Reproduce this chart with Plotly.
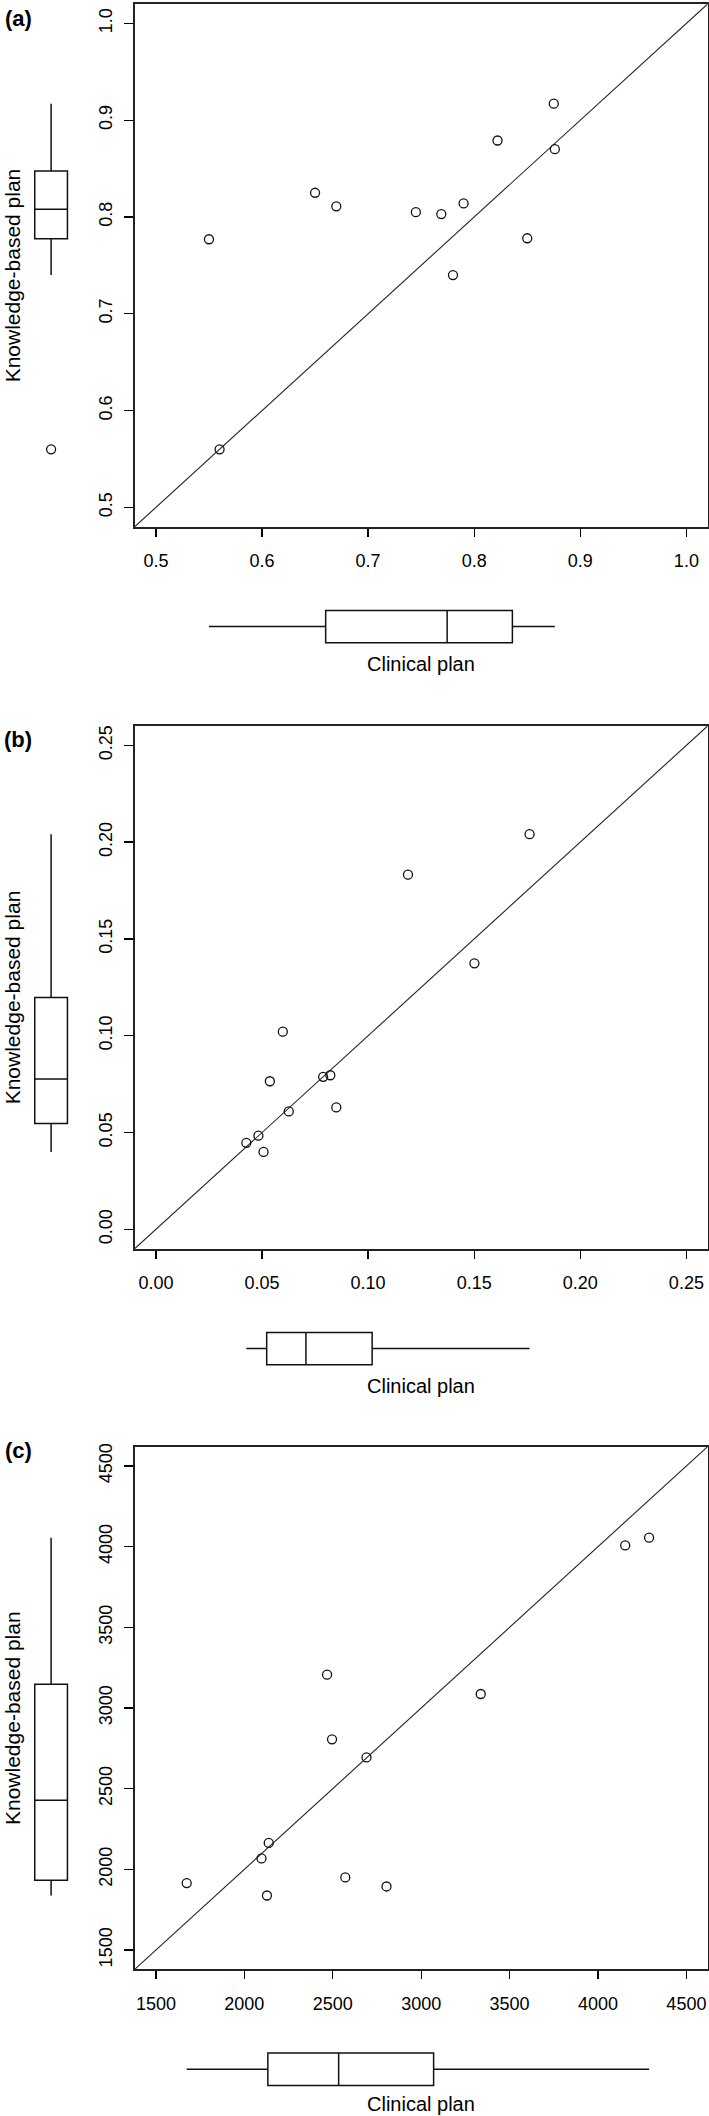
import plotly.graph_objects as go

W, H = 709, 2116

# ---------------- data ----------------
# Panel (a)
a_clinical = [0.550, 0.560, 0.650, 0.670, 0.745, 0.769, 0.790, 0.780, 0.822, 0.850, 0.875, 0.876]
a_kbp = [0.777, 0.560, 0.825, 0.811, 0.805, 0.803, 0.814, 0.740, 0.879, 0.778, 0.917, 0.870]
a_ticks = [0.5, 0.6, 0.7, 0.8, 0.9, 1.0]
a_ticklabels = ["0.5", "0.6", "0.7", "0.8", "0.9", "1.0"]

# Panel (b)
b_clinical = [0.1761, 0.1188, 0.1501, 0.0598, 0.0537, 0.0788, 0.0822, 0.0626, 0.0850, 0.0426, 0.0483, 0.0507]
b_kbp = [0.2041, 0.1832, 0.1374, 0.1021, 0.0765, 0.0788, 0.0796, 0.0609, 0.0630, 0.0447, 0.0484, 0.0400]
b_ticks = [0.00, 0.05, 0.10, 0.15, 0.20, 0.25]
b_ticklabels = ["0.00", "0.05", "0.10", "0.15", "0.20", "0.25"]

# Panel (c)
c_clinical = [4154, 4289, 3337, 2468, 2496, 2691, 2138, 2097, 1674, 2128, 2571, 2804]
c_kbp = [4008, 4056, 3087, 3207, 2806, 2694, 2164, 2068, 1915, 1838, 1950, 1894]
c_ticks = [1500, 2000, 2500, 3000, 3500, 4000, 4500]
c_ticklabels = ["1500", "2000", "2500", "3000", "3500", "4000", "4500"]

panel_letters = ["(a)", "(b)", "(c)"]
x_title = "Clinical plan"
y_title = "Knowledge-based plan"

# ---------------- layout geometry (pixels) ----------------
FRAME_L, FRAME_R = 134.7, 707.6
frame_tops = [1.0, 724.0, 1445.7]
FRAME_H = 523.5
letter_y = [16, 738, 1450]

FONT = "Liberation Sans, Arial, Helvetica, sans-serif"


def px_x(p):
    return p / W


def px_y(p):
    return 1 - p / H


panels = [
    (a_clinical, a_kbp, a_ticks, a_ticklabels),
    (b_clinical, b_kbp, b_ticks, b_ticklabels),
    (c_clinical, c_kbp, c_ticks, c_ticklabels),
]

fig = go.Figure()
layout = dict(
    width=W, height=H, autosize=False,
    margin=dict(l=0, r=0, t=0, b=0),
    paper_bgcolor="white", plot_bgcolor="white",
    showlegend=False,
    font=dict(family=FONT, color="black"),
)
annotations = []

for i, (cx, ky, ticks, ticklabels) in enumerate(panels):
    n_main = 2 * i + 1
    n_aux = 2 * i + 2
    xm = "x" if n_main == 1 else f"x{n_main}"
    ym = "y" if n_main == 1 else f"y{n_main}"
    xa = f"x{n_aux}"
    ya = f"y{n_aux}"

    top = frame_tops[i]
    bottom = top + FRAME_H
    lo, hi = ticks[0], ticks[-1]
    pad = (hi - lo) * 0.04
    rng = [lo - pad, hi + pad]

    axis_common = dict(
        range=rng, tickvals=ticks, ticktext=ticklabels,
        ticks="outside", tickwidth=1.3, tickcolor="black",
        showline=True, linewidth=1.8, linecolor="#222", mirror=True,
        showgrid=False, zeroline=False, fixedrange=True,
        tickfont=dict(family=FONT, size=18, color="black"),
    )
    layout["xaxis" + ("" if n_main == 1 else str(n_main))] = dict(
        axis_common, domain=[px_x(FRAME_L), px_x(FRAME_R)], anchor=ym, ticklen=8,
        ticklabelstandoff=9,
    )
    layout["yaxis" + ("" if n_main == 1 else str(n_main))] = dict(
        axis_common, domain=[px_y(bottom), px_y(top)], anchor=xm, ticklen=9,
        tickangle=-90, ticklabelstandoff=5,
    )
    # left box axis (horizontal extent for the vertical box)
    layout[f"xaxis{n_aux}"] = dict(
        domain=[0, px_x(102.2)], range=[-1, 1], visible=False, anchor=ym, fixedrange=True,
    )
    # bottom box axis
    bc = bottom + 100
    layout[f"yaxis{n_aux}"] = dict(
        domain=[px_y(bc + 30), px_y(bc - 30)], range=[-1, 1], visible=False, anchor=xm,
        fixedrange=True,
    )

    # identity line
    fig.add_trace(go.Scatter(
        x=rng, y=rng, mode="lines", line=dict(color="#222", width=1.1),
        xaxis=xm, yaxis=ym, hoverinfo="skip",
    ))
    # points
    fig.add_trace(go.Scatter(
        x=cx, y=ky, mode="markers", xaxis=xm, yaxis=ym,
        marker=dict(symbol="circle-open", size=9, color="#111", line=dict(width=1.3)),
    ))
    box_style = dict(
        fillcolor="white", line=dict(color="#111", width=1.5),
        boxpoints="outliers", jitter=0, pointpos=0, whiskerwidth=0,
        quartilemethod="exclusive",
        marker=dict(symbol="circle-open", size=9, color="#111", line=dict(width=1.3)),
    )
    # vertical box of knowledge-based plan values
    fig.add_trace(go.Box(y=ky, x0=0, width=0.64, xaxis=xa, yaxis=ym, **box_style))
    # horizontal box of clinical plan values
    fig.add_trace(go.Box(x=cx, y0=0, width=1.08, orientation="h", xaxis=xm, yaxis=ya, **box_style))

    annotations.append(dict(
        text=f"<b>{panel_letters[i]}</b>", x=px_x(18), y=px_y(letter_y[i]),
        xref="paper", yref="paper", xanchor="center", yanchor="middle", showarrow=False,
        font=dict(family=FONT, size=22, color="black"),
    ))
    annotations.append(dict(
        text=y_title, x=px_x(12), y=px_y((top + bottom) / 2 + 10), textangle=-90,
        xref="paper", yref="paper", xanchor="center", yanchor="middle", showarrow=False,
        font=dict(family=FONT, size=21, color="black"),
    ))
    annotations.append(dict(
        text=x_title, x=px_x((FRAME_L + FRAME_R) / 2), y=px_y(min(bottom + 137, H - 12)),
        xref="paper", yref="paper", xanchor="center", yanchor="middle", showarrow=False,
        font=dict(family=FONT, size=20, color="black"),
    ))

layout["annotations"] = annotations
fig.update_layout(**layout)
fig.write_html(
    "out.html",
    config={"displayModeBar": False, "staticPlot": True},
    post_script="document.body.style.margin='0px';document.body.style.padding='0px';",
)
